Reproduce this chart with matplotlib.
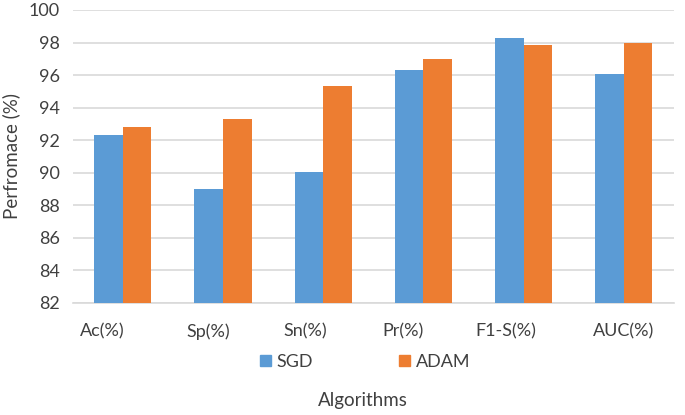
import matplotlib.pyplot as plt
import numpy as np
from matplotlib.patches import Patch

plt.rcParams['font.family'] = ['Lato', 'DejaVu Sans']

metrics = ['Ac(%)', 'Sp(%)', 'Sn(%)', 'Pr(%)', 'F1-S(%)', 'AUC(%)']
sgd = [92.3, 89.0, 90.05, 96.33, 98.3, 96.04]
adam = [92.84, 93.3, 95.3, 97.0, 97.87, 97.95]

blue = '#5B9BD5'
orange = '#ED7D31'
grid_col = '#D9D9D9'
text_col = '#404040'

fig = plt.figure(figsize=(6.85, 4.15), dpi=100)
ax = fig.add_axes([0.106, 0.270, 0.878, 0.706])

x = np.arange(len(metrics))
w = 0.285
ax.bar(x - w / 2, sgd, w, color=blue, zorder=3)
ax.bar(x + w / 2, adam, w, color=orange, zorder=3)

ax.set_ylim(82, 100)
ax.set_yticks(np.arange(82, 101, 2))
ax.set_xlim(-0.5, len(metrics) - 0.5)
ax.yaxis.grid(True, color=grid_col, linewidth=1.2, zorder=0)
ax.set_axisbelow(True)

for s in ['top', 'right', 'left']:
    ax.spines[s].set_visible(False)
ax.spines['bottom'].set_color(grid_col)
ax.spines['bottom'].set_linewidth(1.2)

# category labels sit a little left of the bar pairs in the original
label_shift = [-0.2, -0.15, -0.18, -0.2, -0.18, 0.0]
ax.set_xticks(x + np.array(label_shift))
ax.set_xticklabels(metrics)
ax.tick_params(axis='x', length=0, pad=15, labelsize=13, labelcolor=text_col)
ax.tick_params(axis='y', length=0, pad=9, labelsize=13, labelcolor=text_col)

ax.set_ylabel('Perfromace (%)', fontsize=13.5, color=text_col, labelpad=6)

handles = [Patch(color=blue, label='SGD'), Patch(color=orange, label='ADAM')]
fig.legend(handles=handles, loc='center', bbox_to_anchor=(0.533, 0.128), ncol=2,
           frameon=False, fontsize=13, handlelength=0.6, handleheight=0.6,
           handletextpad=0.3, columnspacing=4.8, labelcolor=text_col)

fig.text(0.53, 0.036, 'Algorithms', ha='center', va='center', fontsize=13.5, color=text_col)

plt.savefig('out.png', dpi=100)
